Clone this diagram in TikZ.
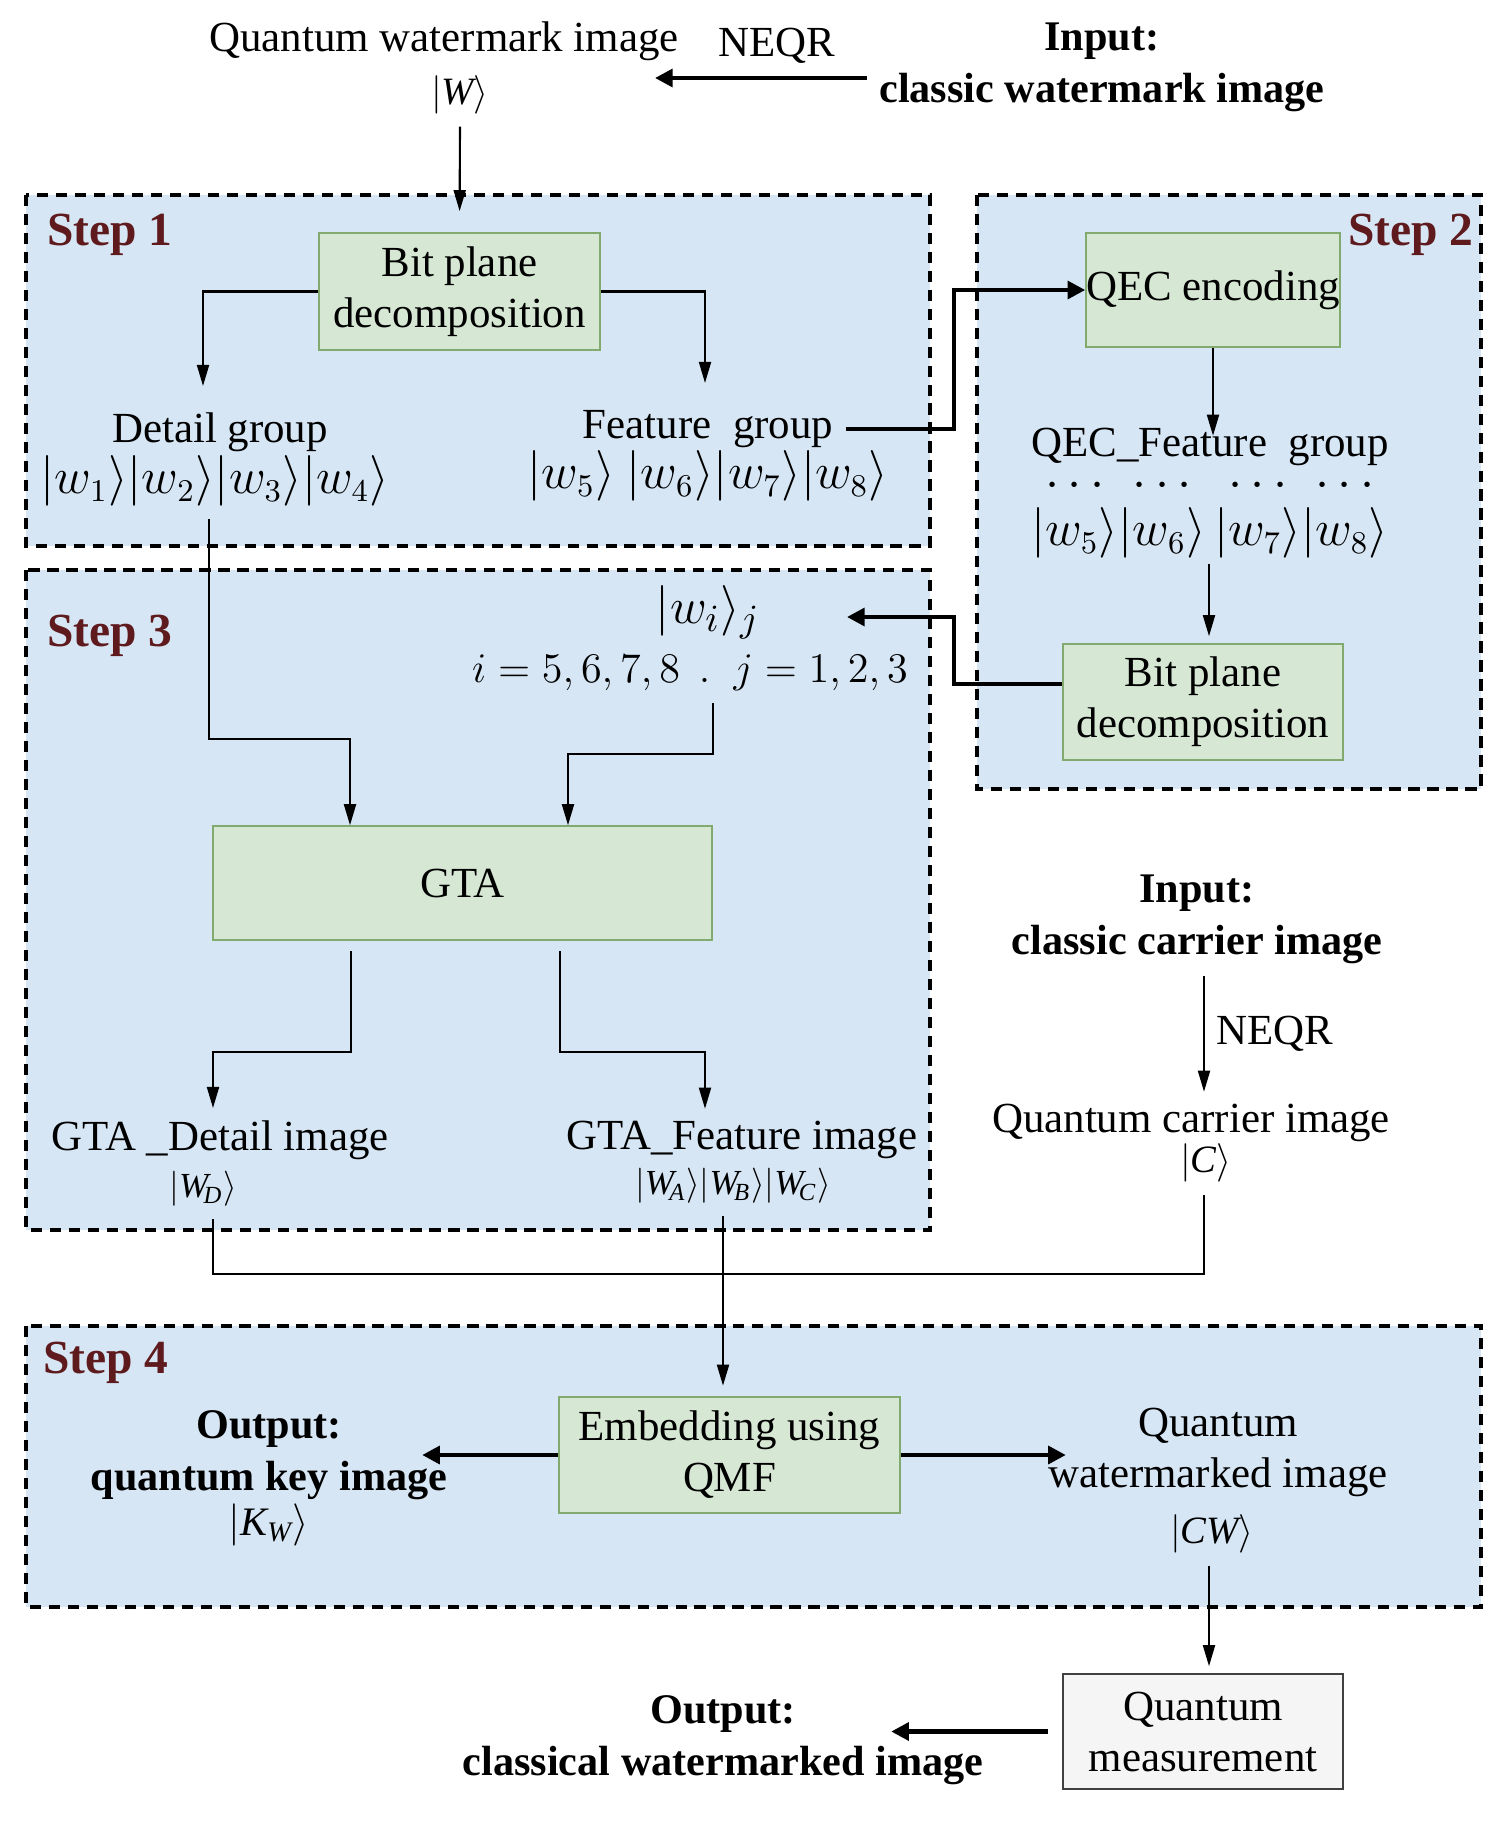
\documentclass[tikz,border=0pt]{standalone}
\usepackage{amsmath}
\usepackage{fontspec}
\setmainfont{Liberation Serif}
\usetikzlibrary{arrows.meta}
\definecolor{stepblue}{RGB}{214,230,244}
\definecolor{stepred}{RGB}{94,26,28}
\definecolor{procgreen}{RGB}{214,232,212}
\definecolor{procline}{RGB}{130,170,110}
\begin{document}
\begin{tikzpicture}[x=0.01cm,y=-0.01cm,
  font=\fontsize{12.2}{14.5}\selectfont,
  stepbox/.style={draw,line width=1.1pt,dash pattern=on 3.2pt off 2.2pt,fill=stepblue},
  steplbl/.style={font=\fontsize{13.5}{15}\selectfont\bfseries,text=stepred},
  proc/.style={draw=procline,fill=procgreen,align=center,inner sep=0pt},
  bold/.style={font=\fontsize{12}{14.8}\selectfont\bfseries,align=center},
  ket/.style={font=\fontsize{10}{12}\selectfont},
  arr/.style={-{Triangle[length=6pt,width=3.4pt]},line width=.6pt},
  tarr/.style={-{Triangle[length=5pt,width=5pt]},line width=1.2pt}]
\useasboundingbox(0,0)rectangle(1500,1821);
% steps
\draw[stepbox](26,195)rectangle(930,546);
\draw[stepbox](977,195)rectangle(1481,789);
\draw[stepbox](26,570)rectangle(930,1230);
\draw[stepbox](26,1326)rectangle(1481,1607);
\node[steplbl,anchor=west](s1)at(35,235){Step 1};
\node[steplbl,anchor=east](s2)at(1486,235){Step 2};
\node[steplbl,anchor=west](s3)at(35,636){Step 3};
\node[steplbl,anchor=west](s4)at(31,1363){Step 4};
% input
\node(qwm)at(444,41){Quantum watermark image};
\node[ket,font=\fontsize{11}{13}\selectfont](qwmk)at(460,95){$|\mathit{W}\rangle$};
\node(neqr1)at(777,46){NEQR};
\node[bold](in1)at(1102,67){Input:\\classic watermark image};
\draw[tarr](in1.west|-0,78)--(655,78);
% step 1
\node[proc,minimum width=2.81cm,minimum height=1.17cm](bpd1)at(459.5,291.5){Bit plane\\decomposition};
\draw[arr,shorten >=6pt](qwmk.south)--(bpd1.north);
\node(dg)at(220,432){Detail group};
\node[font=\fontsize{13.5}{15}\selectfont](dgk)at(215,481){$|w_1\rangle|w_2\rangle|w_3\rangle|w_4\rangle$};
\node(fg)at(708,429){Feature\ \ group};
\node[font=\fontsize{13.5}{15}\selectfont](fgk)at(708,476){$|w_5\rangle\ |w_6\rangle|w_7\rangle|w_8\rangle$};
\draw[arr](bpd1.west)-|(203,386);
\draw[arr](bpd1.east)-|(705,383);
% step 2
\node[proc,minimum width=2.54cm,minimum height=1.14cm](qec)at(1213,290){QEC encoding};
\draw[tarr](fg.east)-|(954,290)--(qec.west);
\node(qfg)at(1210,447){QEC\_Feature\ \ group};
\node[font=\fontsize{13.5}{15}\selectfont](qfgk)at(1210,514){$\overset{\textstyle\cdots}{|w_5\rangle}\overset{\textstyle\cdots}{|w_6\rangle}\,\overset{\textstyle\cdots}{|w_7\rangle}\overset{\textstyle\cdots}{|w_8\rangle}$};
\draw[arr](qec.south)--++(0,88);
\node[proc,minimum width=2.80cm,minimum height=1.16cm](bpd2)at(1203,702){Bit plane\\decomposition};
\draw[arr,shorten <=-2pt,shorten >=2pt](qfgk.south-|1209,0)--(bpd2.north-|1209,0);
% step 3
\node[font=\fontsize{15}{17}\selectfont](wij)at(708,612){$|w_i\rangle_j$};
\node[font=\fontsize{12.6}{15}\selectfont](ij)at(690,673){$i=5,6,7,8\;\,\mathbf{.}\;\;j=1,2,3$};
\draw[tarr](bpd2.west|-0,684)-|(954,617)--(847,617);
\node[proc,minimum width=4.99cm,minimum height=1.14cm](gta)at(462.5,883){GTA};
\draw[arr](dgk.south-|209,0)|-(350,739)--(gta.north-|350,0);
\draw[arr](ij.south-|713,0)|-(568,754)--(gta.north-|568,0);
\node(gd)at(220,1140){GTA\ \_Detail image};
\node[ket](gdk)at(203,1189){$|\mathit{W}_{\!\mathit{D}}\rangle$};
\node(gf)at(742,1140){GTA\_Feature image};
\node[ket](gfk)at(733,1186){$|\mathit{W}_{\!\mathit{A}}\rangle|\mathit{W}_{\!\mathit{B}}\rangle|\mathit{W}_{\!\mathit{C}}\rangle$};
\draw[arr]([yshift=-3pt]gta.south-|351,0)|-(213,1052)--(gd.north-|213,0);
\draw[arr]([yshift=-3pt]gta.south-|560,0)|-(705,1052)--(gf.north-|705,0);
% carrier
\node[bold](in2)at(1197,919){Input:\\classic carrier image};
\node(qc)at(1191,1123){Quantum carrier image};
\node[font=\fontsize{11}{13}\selectfont](qck)at(1206,1163){$|\mathit{C}\rangle$};
\draw[arr](in2.south-|1204,0)--(qc.north-|1204,0)node[midway,right]{NEQR};
\draw[line width=.6pt](gdk.south-|213,0)|-(1204,1274)--(qck.south-|1204,0);
% step 4
\node[proc,minimum width=3.41cm,minimum height=1.16cm](emb)at(729.5,1455){Embedding using\\QMF};
\draw[arr,shorten >=3pt](gfk.south-|723,0)--(emb.north-|723,0);
\node[bold](okey)at(269,1455){Output:\\quantum key image};
\node[font=\fontsize{11.5}{13}\selectfont](okk)at(269,1525){$|\mathit{K}_{\mathit{W}}\rangle$};
\node[align=center](qwd)at(1218,1452){Quantum\\watermarked image};
\node[font=\fontsize{11}{13}\selectfont](cwk)at(1212,1534){$|\mathit{CW}\rangle$};
\draw[tarr](emb.west)--++(-136,0);
\draw[tarr](emb.east)--++(165,0);
% measurement
\node[draw=black!75,fill=black!4,align=center,minimum width=2.80cm,minimum height=1.15cm,inner sep=0pt](meas)at(1203,1731.5){Quantum\\measurement};
\draw[arr,shorten >=2pt](cwk.south-|1209,0)--(meas.north-|1209,0);
\node[bold](ocl)at(723,1740){Output:\\classical watermarked image};
\draw[tarr,shorten <=4pt](meas.west)--++(-171,0);
\end{tikzpicture}
\end{document}
